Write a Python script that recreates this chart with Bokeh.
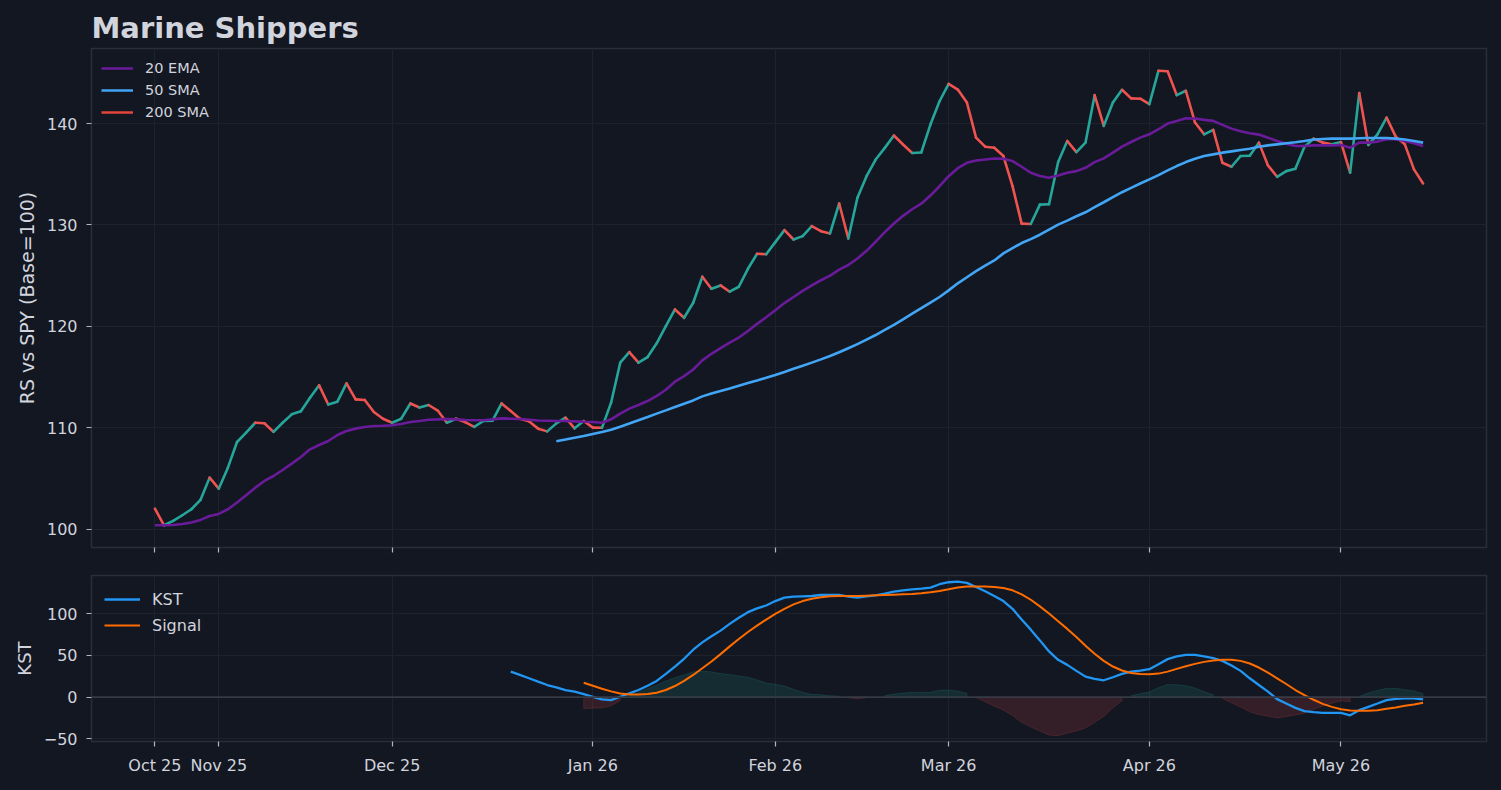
import numpy as np
from bokeh.plotting import figure
from bokeh.models import Range1d, FixedTicker, Legend, LegendItem, Span
from bokeh.layouts import column
from bokeh.embed import file_html
from bokeh.resources import INLINE

# ---------------- data ----------------
rs = [102.04, 100.39, 100.82, 101.38, 101.97, 102.9, 105.09, 104.0, 106.07, 108.6,
      109.52, 110.5, 110.45, 109.6, 110.5, 111.33, 111.63, 112.97, 114.19, 112.3,
      112.58, 114.38, 112.8, 112.75, 111.56, 110.9, 110.5, 110.9, 112.4, 112.0,
      112.25, 111.7, 110.5, 110.9, 110.57, 110.1, 110.67, 110.7, 112.4, 111.66,
      110.9, 110.64, 109.92, 109.65, 110.44, 111.0, 109.95, 110.67, 110.02, 110.0,
      112.48, 116.42, 117.47, 116.42, 116.98, 118.33, 120.03, 121.67, 120.85, 122.33,
      124.9, 123.71, 124.04, 123.42, 123.91, 125.68, 127.16, 127.12, 128.31, 129.49,
      128.57, 128.9, 129.88, 129.39, 129.16, 132.12, 128.67, 132.68, 134.81, 136.45,
      137.6, 138.82, 137.93, 137.1, 137.15, 139.9, 142.2, 143.91, 143.35, 142.08,
      138.61, 137.72, 137.62, 136.8, 133.83, 130.13, 130.1, 132.01, 132.05, 136.2,
      138.28, 137.19, 138.12, 142.8, 139.77, 142.08, 143.33, 142.48, 142.45, 141.91,
      145.21, 145.15, 142.8, 143.23, 140.1, 138.94, 139.37, 136.14, 135.74, 136.8,
      136.82, 138.12, 135.87, 134.75, 135.31, 135.54, 137.72, 138.51, 138.12, 137.95,
      138.18, 135.15, 143.0, 137.89, 138.94, 140.59, 138.71, 137.95, 135.48, 134.09]

ema20 = [100.39, 100.4, 100.42, 100.52, 100.66, 100.92, 101.31, 101.51, 101.97, 102.63,
         103.35, 104.1, 104.76, 105.25, 105.84, 106.47, 107.12, 107.88, 108.31, 108.7,
         109.29, 109.69, 109.92, 110.08, 110.18, 110.2, 110.25, 110.38, 110.57, 110.67,
         110.8, 110.83, 110.87, 110.83, 110.77, 110.74, 110.74, 110.83, 110.93, 110.9,
         110.87, 110.8, 110.72, 110.7, 110.67, 110.67, 110.64, 110.6, 110.57, 110.5,
         110.84, 111.4, 111.89, 112.25, 112.64, 113.14, 113.75, 114.55, 115.1, 115.75,
         116.65, 117.3, 117.85, 118.4, 118.9, 119.55, 120.25, 120.9, 121.6, 122.3,
         122.9, 123.5, 124.05, 124.55, 125.0, 125.6, 126.05, 126.7, 127.45, 128.35,
         129.3, 130.15, 130.9, 131.55, 132.1, 132.9, 133.82, 134.81, 135.6, 136.13,
         136.35, 136.45, 136.56, 136.53, 136.3, 135.74, 135.15, 134.82, 134.65, 134.88,
         135.15, 135.31, 135.64, 136.2, 136.57, 137.13, 137.72, 138.18, 138.61, 138.94,
         139.44, 140.0, 140.26, 140.53, 140.5, 140.36, 140.26, 139.87, 139.5, 139.24,
         139.04, 138.91, 138.61, 138.28, 138.02, 137.79, 137.79, 137.85, 137.85, 137.85,
         137.89, 137.62, 138.12, 138.12, 138.22, 138.45, 138.45, 138.28, 138.05, 137.79]

sma50 = [108.68, 108.85, 109.03, 109.2, 109.4, 109.58, 109.8, 110.1, 110.42, 110.75,
         111.07, 111.4, 111.72, 112.05, 112.38, 112.7, 113.1, 113.38, 113.62, 113.88,
         114.15, 114.42, 114.67, 114.93, 115.2, 115.5, 115.82, 116.12, 116.43, 116.75,
         117.08, 117.45, 117.85, 118.25, 118.7, 119.15, 119.65, 120.15, 120.7, 121.25,
         121.8, 122.35, 122.9, 123.55, 124.25, 124.85, 125.45, 126.0, 126.5, 127.2,
         127.72, 128.22, 128.61, 129.04, 129.54, 130.03, 130.43, 130.86, 131.25, 131.75,
         132.24, 132.74, 133.23, 133.66, 134.09, 134.49, 134.92, 135.38, 135.81, 136.2,
         136.53, 136.8, 136.96, 137.13, 137.26, 137.39, 137.52, 137.72, 137.85, 137.95,
         138.05, 138.15, 138.28, 138.42, 138.48, 138.51, 138.51, 138.51, 138.55, 138.58,
         138.58, 138.58, 138.51, 138.42, 138.28, 138.12]

sma200 = [None, None]  # not enough history in view: legend entry only

kst = [30.6, 26.6, 22.6, 18.5, 14.5, 11.7, 8.5, 6.5, 3.6, 0.4,
       -2.8, -3.6, 0.4, 4.4, 8.5, 13.7, 19.4, 27.8, 36.7, 46.0,
       56.9, 65.7, 73.0, 79.8, 87.9, 95.2, 102.0, 106.5, 110.0, 115.3,
       119.4, 120.6, 121.0, 121.4, 122.6, 122.6, 122.6, 120.6, 119.4, 121.0,
       122.2, 124.2, 126.6, 128.2, 129.4, 130.2, 131.5, 135.5, 137.9, 138.7,
       137.1, 132.1, 127.0, 121.4, 115.3, 106.0, 93.1, 81.0, 68.1, 54.8,
       44.8, 38.7, 31.5, 24.6, 21.8, 20.2, 23.8, 27.8, 30.6, 31.9,
       33.5, 39.5, 45.6, 48.8, 50.8, 50.8, 48.8, 46.8, 43.5, 37.9,
       31.5, 22.6, 14.5, 6.5, -2.4, -7.7, -12.9, -16.9, -18.1, -19.0,
       -19.0, -19.0, -21.8, -15.7, -11.7, -7.7, -3.6, -2.0, -1.6, -1.6,
       -2.8]

signal = [17.3, 13.7, 10.1, 6.9, 4.4, 3.2, 3.2, 3.6, 5.2, 8.5,
          13.3, 19.4, 26.6, 34.7, 42.7, 51.6, 60.9, 69.8, 78.2, 85.9,
          93.1, 100.0, 106.0, 111.3, 115.3, 118.1, 119.8, 121.0, 121.4, 121.4,
          121.4, 121.8, 122.2, 122.6, 123.0, 123.4, 123.8, 124.6, 125.8, 127.4,
          129.4, 131.5, 132.7, 132.7, 132.7, 132.3, 131.0, 128.2, 123.4, 116.9,
          108.9, 100.4, 91.1, 81.9, 72.2, 61.7, 52.0, 43.5, 36.7, 31.9,
          29.0, 27.8, 27.4, 28.2, 30.6, 33.9, 37.1, 39.9, 42.3, 44.0,
          44.8, 44.8, 43.5, 40.3, 35.5, 29.4, 22.6, 15.7, 8.5, 2.4,
          -3.2, -8.1, -11.7, -14.5, -16.1, -16.5, -16.5, -15.7, -14.1, -12.5,
          -10.5, -8.9, -6.9]

tick_idx = [0, 7, 26, 48, 68, 87, 109, 130]
tick_labels = ["Oct 25", "Nov 25", "Dec 25", "Jan 26", "Feb 26", "Mar 26", "Apr 26", "May 26"]
rs_ticks = [100, 110, 120, 130, 140]
kst_ticks = [-50, 0, 50, 100]

# ---------------- styling ----------------
BG = "#131722"
FRAME = "#2a2e39"
GRID = "#1e222d"
TXT = "#d1d4dc"
FONT = "DejaVu Sans"
UP, DOWN = "#26a69a", "#ef5350"

n = len(rs)
x = np.arange(n)
rs_a = np.array(rs)
x_sma = np.arange(n - len(sma50), n)
x_kst = np.arange(n - len(kst), n)
x_sig = np.arange(n - len(signal), n)

xr = Range1d(-0.05 * (n - 1), (n - 1) * 1.05)


def style(p, yticks):
    p.background_fill_color = BG
    p.border_fill_color = BG
    p.outline_line_color = FRAME
    p.outline_line_width = 1.5
    p.xaxis.ticker = FixedTicker(ticks=tick_idx)
    p.yaxis.ticker = FixedTicker(ticks=yticks)
    for ax in p.axis:
        ax.axis_line_color = None
        ax.major_tick_line_color = "#b2b5be"
        ax.major_tick_line_width = 1.2
        ax.major_tick_out = 5
        ax.major_tick_in = 0
        ax.minor_tick_line_color = None
        ax.major_label_text_color = TXT
        ax.major_label_text_font = FONT
        ax.major_label_text_font_size = "16px"
        ax.major_label_standoff = 9
        ax.axis_label_text_color = TXT
        ax.axis_label_text_font = FONT
        ax.axis_label_text_font_size = "18px"
        ax.axis_label_text_font_style = "normal"
        ax.axis_label_standoff = 6
    p.xgrid.grid_line_color = GRID
    p.ygrid.grid_line_color = GRID
    p.xgrid.grid_line_width = 1
    p.ygrid.grid_line_width = 1


# ---------------- top panel ----------------
p1 = figure(frame_width=1395, frame_height=499, x_range=xr, y_range=Range1d(98.2, 147.4),
            output_backend="svg", toolbar_location=None,
            min_border_left=91, min_border_right=14, min_border_top=48, min_border_bottom=12)
style(p1, rs_ticks)
p1.title.text = "Marine Shippers"
p1.title.text_font = FONT
p1.title.text_font_size = "29px"
p1.title.text_font_style = "bold"
p1.title.text_color = TXT
p1.title.align = "left"
p1.title.standoff = 7
p1.yaxis.axis_label = "RS vs SPY (Base=100)"
p1.yaxis.axis_label_text_font_size = "19px"
p1.xaxis.major_label_overrides = {t: "" for t in tick_idx}
p1.xaxis.major_label_text_font_size = "1px"
p1.xaxis.major_label_standoff = 0

seg_colors = [UP if rs_a[i + 1] >= rs_a[i] else DOWN for i in range(n - 1)]
p1.segment(x0=x[:-1], y0=rs_a[:-1], x1=x[1:], y1=rs_a[1:], line_color=seg_colors,
           line_width=2.6, line_cap="round")
r_ema = p1.line(x, ema20, line_color="#6a1b9a", line_width=2.6)
r_sma = p1.line(x_sma, sma50, line_color="#42a5f5", line_width=2.6)
r_200 = p1.line(list(range(len(sma200))), sma200, line_color="#e5453b", line_width=2.6)

leg1 = Legend(items=[LegendItem(label="20 EMA", renderers=[r_ema]),
                     LegendItem(label="50 SMA", renderers=[r_sma]),
                     LegendItem(label="200 SMA", renderers=[r_200])],
              location="top_left", background_fill_alpha=0, border_line_alpha=0,
              label_text_color=TXT, label_text_font=FONT, label_text_font_size="14.5px",
              glyph_width=32, glyph_height=20, label_height=20, spacing=2,
              padding=5, margin=5, label_standoff=12)
p1.add_layout(leg1)

# ---------------- bottom panel ----------------
p2 = figure(frame_width=1395, frame_height=166, x_range=xr, y_range=Range1d(-53.3, 146.0),
            output_backend="svg", toolbar_location=None,
            min_border_left=91, min_border_right=14, min_border_top=16, min_border_bottom=40)
style(p2, kst_ticks)
p2.yaxis.axis_label = "KST"
p2.yaxis.major_label_overrides = {-50: "\u221250"}
p2.xaxis.major_label_overrides = {t: l for t, l in zip(tick_idx, tick_labels)}

p2.add_layout(Span(location=0, dimension="width", line_color="#363a45", line_width=1.6))

kst_a = np.array(kst)
sig_a = np.array(signal)
hist = kst_a[len(kst) - len(signal):] - sig_a


def runs(mask):
    out, start = [], None
    for i, m in enumerate(mask):
        if m and start is None:
            start = i
        if not m and start is not None:
            out.append((start, i))
            start = None
    if start is not None:
        out.append((start, len(mask)))
    return [r for r in out if r[1] - r[0] >= 2]


for mask, col in ((hist > 0, UP), (hist < 0, DOWN)):
    xs, ys = [], []
    for a, b in runs(mask):
        xx = list(x_sig[a:b])
        yy = list(hist[a:b])
        xs.append(xx + xx[::-1])
        ys.append(yy + [0.0] * len(yy))
    if xs:
        p2.patches(xs, ys, fill_color=col, fill_alpha=0.15, line_color=col, line_alpha=0.18,
                   line_width=1)

r_kst = p2.line(x_kst, kst, line_color="#2196f3", line_width=2.3)
r_sig = p2.line(x_sig, signal, line_color="#ff6d00", line_width=2.0)

leg2 = Legend(items=[LegendItem(label="KST", renderers=[r_kst]),
                     LegendItem(label="Signal", renderers=[r_sig])],
              location="top_left", background_fill_alpha=0, border_line_alpha=0,
              label_text_color=TXT, label_text_font=FONT, label_text_font_size="16px",
              glyph_width=36, glyph_height=22, label_height=22, spacing=4,
              padding=6, margin=7, label_standoff=12)
p2.add_layout(leg2)

layout = column(p1, p2, spacing=0)
layout.styles = {"background-color": BG}
html = file_html(layout, INLINE, title="Marine Shippers")
html = html.replace("</head>",
                    "<style>html, body {background-color:#131722 !important;}</style></head>", 1)
open("out.html", "w").write(html)
